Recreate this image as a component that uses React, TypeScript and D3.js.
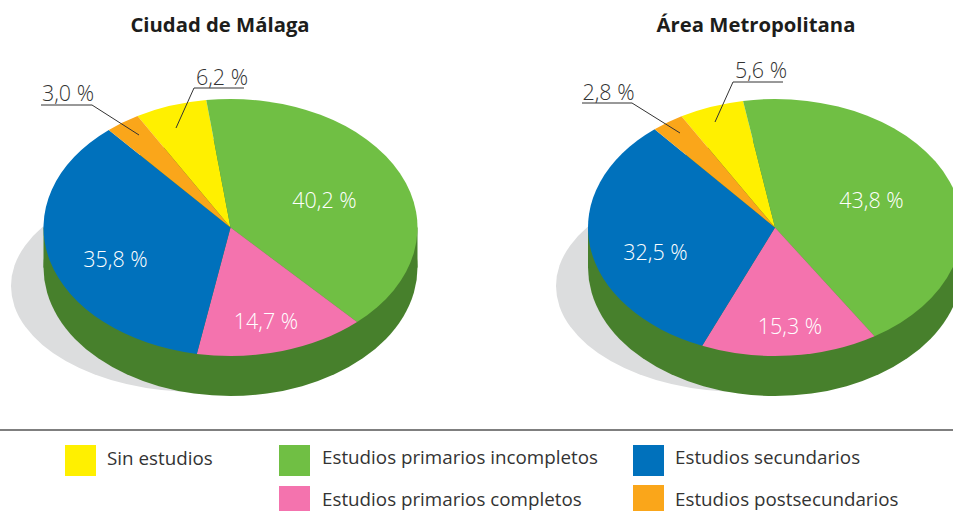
import React from "react";
import * as d3 from "d3";

const categories = ["Sin estudios", "Estudios primarios incompletos", "Estudios primarios completos", "Estudios secundarios", "Estudios postsecundarios"];
const colors = ["#FFF000", "#70BF44", "#F473AE", "#0071BC", "#FAA61A"];
const malaga = [6.2, 40.2, 14.7, 35.8, 3.0];
const metro = [5.6, 43.8, 15.3, 32.5, 2.8];
const font = "'Open Sans', 'Noto Sans', sans-serif";
const rx = 187, ry = 128.5, depth = 40;
const pct = (v: number) => v.toFixed(1).replace(".", ",") + " %";

type LabelPos = { x: number; y: number; inside: boolean; lead?: number[] };

function Pie3D({ title, titleX, values, cx, cy, start, labels, shadowX }: { title: string; titleX: number; values: number[]; cx: number; cy: number; start: number; labels: LabelPos[]; shadowX: number }) {
  const pie = d3.pie<number>().sort(null).startAngle(start).endAngle(start + Math.PI * 2)(values);
  const arc = d3.arc<d3.PieArcDatum<number>>().innerRadius(0).outerRadius(rx);
  const yScale = ry / rx;
  const disc = d3.arc()({ innerRadius: 0, outerRadius: rx, startAngle: 0, endAngle: Math.PI * 2 } as any) as string;
  return (
    <g>
      <text x={titleX} y={32} textAnchor="middle" fontFamily={font} fontWeight={700} fontSize={20.3} fill="#1d1d1b">{title}</text>
      <ellipse cx={shadowX} cy={286} rx={rx} ry={106} fill="#DCDDDE" />
      <g transform={`translate(${cx},${cy + depth}) scale(1,${yScale})`}><path d={disc} fill="#47802C" /></g>
      <rect x={cx - rx} y={cy} width={rx * 2} height={depth} fill="#47802C" />
      <g transform={`translate(${cx},${cy}) scale(1,${yScale})`}>
        {pie.map((d, i) => <path key={i} d={arc(d) as string} fill={colors[i]} />)}
      </g>
      {values.map((v, i) => {
        const l = labels[i];
        return (
          <g key={i}>
            {l.lead && <polyline points={l.lead.join(" ")} fill="none" stroke="#333" strokeWidth={1} />}
            <text x={l.x} y={l.y} textAnchor="middle" fontFamily={font} fontWeight={300} fontSize={21.5} fill={l.inside ? "#fff" : "#333"}>{pct(v)}</text>
          </g>
        );
      })}
    </g>
  );
}

const legendRows = [
  { i: 0, sx: 65, sy: 445, h: 31, tx: 107, ty: 465 },
  { i: 1, sx: 279, sy: 445, h: 31, tx: 322, ty: 464 },
  { i: 2, sx: 279, sy: 486, h: 25, tx: 322, ty: 506 },
  { i: 3, sx: 633, sy: 445, h: 31, tx: 675, ty: 464 },
  { i: 4, sx: 633, sy: 485, h: 26, tx: 675, ty: 506 },
];

export default function App() {
  const rad = Math.PI / 180;
  return (
    <svg width={953} height={511} viewBox="0 0 953 511" style={{ position: "absolute", left: 0, top: 0, display: "block" }}>
      <Pie3D title="Ciudad de Málaga" titleX={220} values={malaga} cx={230.5} cy={227.5} start={-29.8 * rad} shadowX={198}
        labels={[
          { x: 222, y: 85, inside: false, lead: [244, 88, 194, 88, 176, 128] },
          { x: 324.5, y: 208, inside: true },
          { x: 266, y: 329, inside: true },
          { x: 115.5, y: 267, inside: true },
          { x: 68, y: 101, inside: false, lead: [41, 105, 92, 105, 139, 135] },
        ]} />
      <Pie3D title="Área Metropolitana" titleX={756} values={metro} cx={775} cy={227.5} start={-30 * rad} shadowX={743}
        labels={[
          { x: 761, y: 78, inside: false, lead: [783, 82, 733, 82, 715, 122] },
          { x: 871.5, y: 208, inside: true },
          { x: 790, y: 334, inside: true },
          { x: 655.5, y: 260, inside: true },
          { x: 608.5, y: 100, inside: false, lead: [582, 103, 632, 103, 680, 133] },
        ]} />
      <line x1={0} x2={953} y1={430} y2={430} stroke="#555" strokeWidth={1.3} />
      {legendRows.map((r) => (
        <g key={r.i}>
          <rect x={r.sx} y={r.sy} width={31} height={r.h} fill={colors[r.i]} />
          <text x={r.tx} y={r.ty} fontFamily={font} fontSize={18.8} fill="#333">{categories[r.i]}</text>
        </g>
      ))}
    </svg>
  );
}
